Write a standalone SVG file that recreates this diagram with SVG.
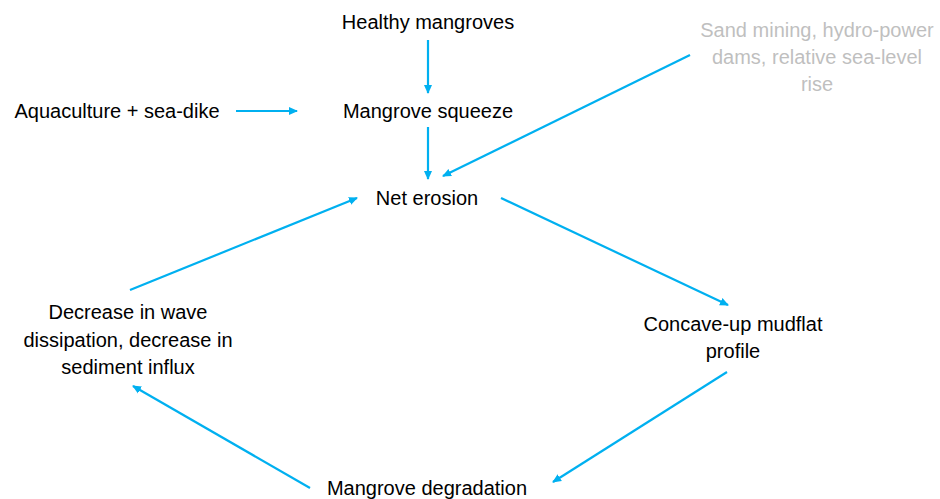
<svg xmlns="http://www.w3.org/2000/svg" width="940" height="499" viewBox="0 0 940 499">
<style>
.t{font-family:"Liberation Sans",Arial,sans-serif;font-size:20px;fill:#000;text-anchor:middle}
.g{fill:#bfbfbf}
.c line{stroke:#00b0f0;stroke-width:2.2;marker-end:url(#ah)}
</style>
<defs>
<marker id="ah" markerWidth="10" markerHeight="10" refX="8" refY="5" orient="auto" markerUnits="userSpaceOnUse">
<path d="M0,1 L9,5 L0,9 Z" fill="#00b0f0"/>
</marker>
</defs>
<rect width="940" height="499" fill="#fff"/>
<g id="connectors" class="c">
<line x1="428" y1="40" x2="428" y2="93"/>
<line x1="236" y1="111" x2="297" y2="111"/>
<line x1="428" y1="127" x2="428" y2="179"/>
<line x1="690" y1="55" x2="443" y2="176"/>
<line x1="501" y1="198" x2="728" y2="305"/>
<line x1="727" y1="372" x2="553" y2="482"/>
<line x1="310" y1="488" x2="133" y2="386"/>
<line x1="130" y1="290" x2="357" y2="198"/>
</g>
<g id="healthy"><text class="t" x="428" y="29">Healthy mangroves</text></g>
<g id="squeeze"><text class="t" x="428" y="118">Mangrove squeeze</text></g>
<g id="aquaculture"><text class="t" x="117" y="118">Aquaculture + sea-dike</text></g>
<g id="sand"><text class="t g" x="817" y="37">Sand mining, hydro-power</text><text class="t g" x="817" y="64">dams, relative sea-level</text><text class="t g" x="817" y="91">rise</text></g>
<g id="erosion"><text class="t" x="427" y="205">Net erosion</text></g>
<g id="decrease"><text class="t" x="128" y="319">Decrease in wave</text><text class="t" x="128" y="347">dissipation, decrease in</text><text class="t" x="128" y="374">sediment influx</text></g>
<g id="concave"><text class="t" x="733" y="331">Concave-up mudflat</text><text class="t" x="733" y="358">profile</text></g>
<g id="degradation"><text class="t" x="427" y="495">Mangrove degradation</text></g>
</svg>
